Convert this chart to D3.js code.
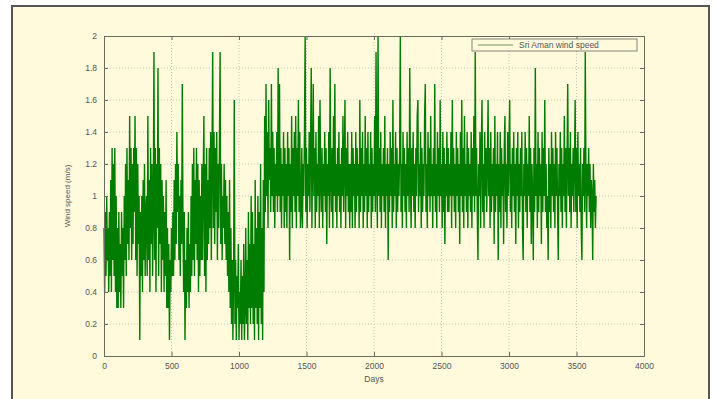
<!DOCTYPE html>
<html>
<head>
<meta charset="utf-8">
<script src="https://cdn.jsdelivr.net/npm/d3@7"></script>
<style>
  body { margin: 0; background: #fff; }
  text { font-family: "Liberation Sans", Arial, sans-serif; }
</style>
</head>
<body>
<div id="chart"></div>
<script>
// daily wind speed, sampled every 5 days, in tenths of m/s (one array per year of 365 days)
const year1 = [8,4,9,5,10,6,8,4, 9,5,11,4,13, 6,12,5,13,4,10,3, 8,3,9,4,7,3,9,5,8,3,10, 6,12,5,13,7,11,6, 15,
  8,13,6,12,7,13,9, 15, 6,13,5,12,7,10, 1, 9,5,10,4,11,6, 12,5,9, 10,5, 15, 6,11,4,13,7,12,5];
const year2 = [9,19, 6,13,4,12,8, 18, 5,13,7,12,4,11,6, 10,4,9,5,11,3, 8,3,7,1,6,4,8,5, 9,5,11,6,12,7, 14, 9,
  12,6,10,5,11,7, 17, 8,4,9, 1, 6,3,8,4,9,3,7,4,10, 5,12,6,13,5,11,7,13, 6,12,4,11,5,10,6,12];
const year3 = [6,11, 15, 5,12,4,13,6,11, 7,13,8,14,6,12, 19, 8,14,7,13,9,14,6,12,8,13, 19, 7,12,6,10,8,12,7,11,6,
  10,5,9,4,11,3,8,2, 6,1,5, 16, 2,6,1,5,3,7,1,4, 2,6,1,5,2,7,1,3, 8,2,6,1,9,3,7,2,10];
const year4 = [3,9,2,7,1,11,3,8,2,10,1,9,3,12,2,8,1,11,4, 15,9,17,10,14,8,16,11,13,9,17,10, 14,9,13,8,12,10,14,9,
  18, 10, 17, 9,13,8,12,10,14,8, 13,9,12,8,14,10,13, 6, 12,9,15,8,13,10,14, 9,15,8,13,10,16,9,14,8];
const year5 = [9,13,8,12,10,14,20,9,13,8, 12,10,14,9,13,18,8,12,17,10, 13,8,14,9,12,10,15,8,16,11,
  9,13,8,12,10,14,9,13,7,12, 10,14,8,18,11,9,13,8,15,10, 17,9,12,8,13,10,14,9,12,8,
  13,10,15,9,12,16,8,13,10,14, 9,12,8];
const year6 = [12,9,14,8,13,10,12,8,14,9, 13,10,12,8,16,9,13,10,14,8, 12,9,15,10,13,8,14,9,12,10,
  14,8,13,9,12,10,15,9,19,11, 8,20,10,13,9,14,8,12,10,13, 9,15,8,12,10,13,6,12,9,14,
  10,13,8,16,9,12,10,14,8,13, 9,12,10];
const year7 = [13,20,9,12,8,14,10,13,9,12, 8,14,10,13,9,18,11,8,13,10, 14,9,12,8,13,10,15,16,9,12,
  10,14,8,13,9,12,10,15,17,9, 12,8,14,10,13,9,15,10,12,8, 13,10,17,9,12,8,14,10,13,9,
  16,10,12,8,14,9,13,7,12,10, 14,9,13];
const year8 = [9,12,10,14,8,16,10,13,9,12, 8,14,10,13,9,12,7,14,10,16, 9,13,8,15,10,12,9,14,8,13,
  10,12,9,14,8,13,10,15,9,19, 10,13,9,6,12,10,14,8,13,16, 9,12,8,14,10,13,9,12,16,10,
  13,8,14,9,12,10,13,7,15,9, 12,10,14];
const year9 = [6,12,9,14,8,13,10,12,7,13, 15,9,12,8,14,10,13,16,9,12, 8,13,10,14,9,12,7,13,10,14,
  8,12,9,13,10,14,8,6,12,10, 14,9,13,8,12,10,15,9,13,7, 12,10,6,13,9,18,10,12,8,14,
  9,13,10,12,7,14,9,13,10,16, 9,12,8];
const year10 = [10,6,13,9,12,8,14,10,13,9, 12,8,14,10,13,9,6,12,10,14, 9,13,8,12,10,15,9,13,8,12,
  17,10,13,9,14,8,12,10,13,9, 12,16,9,13,8,14,10,12,9,13, 8,6,12,10,13,9,19,11,8,12,
  10,13,9,12,8,11,10,6,12,9, 11,8,10];

const years = [year1, year2, year3, year4, year5, year6, year7, year8, year9, year10];
const xTicks = [0, 500, 1000, 1500, 2000, 2500, 3000, 3500, 4000];
const yTicks = [0, 0.2, 0.4, 0.6, 0.8, 1, 1.2, 1.4, 1.6, 1.8, 2];
const seriesName = 'Sri Aman wind speed';

const data = [];
years.forEach((vals, k) => {
  vals.forEach((v, i) => data.push({ day: k * 365 + i * 5, speed: v / 10 }));
});

const width = 715, height = 399;
const margin = { top: 36, right: 71, bottom: 43, left: 104 };
const innerW = width - margin.left - margin.right;
const innerH = height - margin.top - margin.bottom;

const svg = d3.select('#chart').append('svg')
  .attr('width', width)
  .attr('height', height);

// cream frame
svg.append('rect')
  .attr('x', 12).attr('y', 6)
  .attr('width', 697).attr('height', 420)
  .attr('fill', '#fffadc')
  .attr('stroke', '#555')
  .attr('stroke-width', 2);

const x = d3.scaleLinear().domain([0, 4000]).range([0, innerW]);
const y = d3.scaleLinear().domain([0, 2]).range([innerH, 0]);

const g = svg.append('g').attr('transform', `translate(${margin.left},${margin.top})`);

// grid
g.append('g')
  .selectAll('line')
  .data(xTicks.slice(1, -1))
  .join('line')
  .attr('x1', d => x(d)).attr('x2', d => x(d))
  .attr('y1', 0).attr('y2', innerH)
  .attr('stroke', '#b8b8a8')
  .attr('stroke-width', 0.8)
  .attr('stroke-dasharray', '1,2');

g.append('g')
  .selectAll('line')
  .data(yTicks.slice(1, -1))
  .join('line')
  .attr('x1', 0).attr('x2', innerW)
  .attr('y1', d => y(d)).attr('y2', d => y(d))
  .attr('stroke', '#b8b8a8')
  .attr('stroke-width', 0.8)
  .attr('stroke-dasharray', '1,2');

// series
const line = d3.line()
  .x(d => x(d.day))
  .y(d => y(d.speed));

g.append('path')
  .datum(data)
  .attr('fill', 'none')
  .attr('stroke', '#007c00')
  .attr('stroke-width', 1.4)
  .attr('stroke-linejoin', 'bevel')
  .attr('d', line);

// axes (matlab style box with inward ticks)
const axisColor = '#6a6a60';
const xAxis = d3.axisBottom(x).tickValues(xTicks).tickSize(-4).tickPadding(7).tickFormat(d3.format('d'));
const yAxis = d3.axisLeft(y).tickValues(yTicks).tickSize(-4).tickPadding(7).tickFormat(d => d3.format('~g')(d));

const gx = g.append('g').attr('transform', `translate(0,${innerH})`).call(xAxis);
const gy = g.append('g').call(yAxis);
const gxTop = g.append('g').call(d3.axisTop(x).tickValues(xTicks).tickSize(-4).tickFormat(''));
const gyRight = g.append('g').attr('transform', `translate(${innerW},0)`)
  .call(d3.axisRight(y).tickValues(yTicks).tickSize(-4).tickFormat(''));

[gx, gy, gxTop, gyRight].forEach(a => {
  a.select('.domain').attr('stroke', axisColor);
  a.selectAll('.tick line').attr('stroke', axisColor);
  a.selectAll('.tick text')
    .attr('fill', '#555')
    .attr('font-size', 8.5)
    .attr('font-family', '"Liberation Sans", Arial, sans-serif');
});

// labels
g.append('text')
  .attr('x', innerW / 2)
  .attr('y', innerH + 26)
  .attr('text-anchor', 'middle')
  .attr('fill', '#555')
  .attr('font-size', 8.5)
  .text('Days');

g.append('text')
  .attr('transform', `translate(${-34},${innerH / 2}) rotate(-90)`)
  .attr('text-anchor', 'middle')
  .attr('fill', '#555')
  .attr('font-size', 8)
  .text('Wind speed (m/s)');

// legend
const legend = g.append('g').attr('transform', `translate(${innerW - 172},3)`);
legend.append('rect')
  .attr('width', 165).attr('height', 12)
  .attr('fill', '#fffadc')
  .attr('stroke', axisColor)
  .attr('stroke-width', 0.8);
legend.append('line')
  .attr('x1', 6).attr('x2', 41)
  .attr('y1', 6).attr('y2', 6)
  .attr('stroke', '#5f8a55')
  .attr('stroke-width', 0.9);
legend.append('text')
  .attr('x', 47).attr('y', 9)
  .attr('fill', '#555')
  .attr('font-size', 8.5)
  .text(seriesName);
</script>
</body>
</html>
